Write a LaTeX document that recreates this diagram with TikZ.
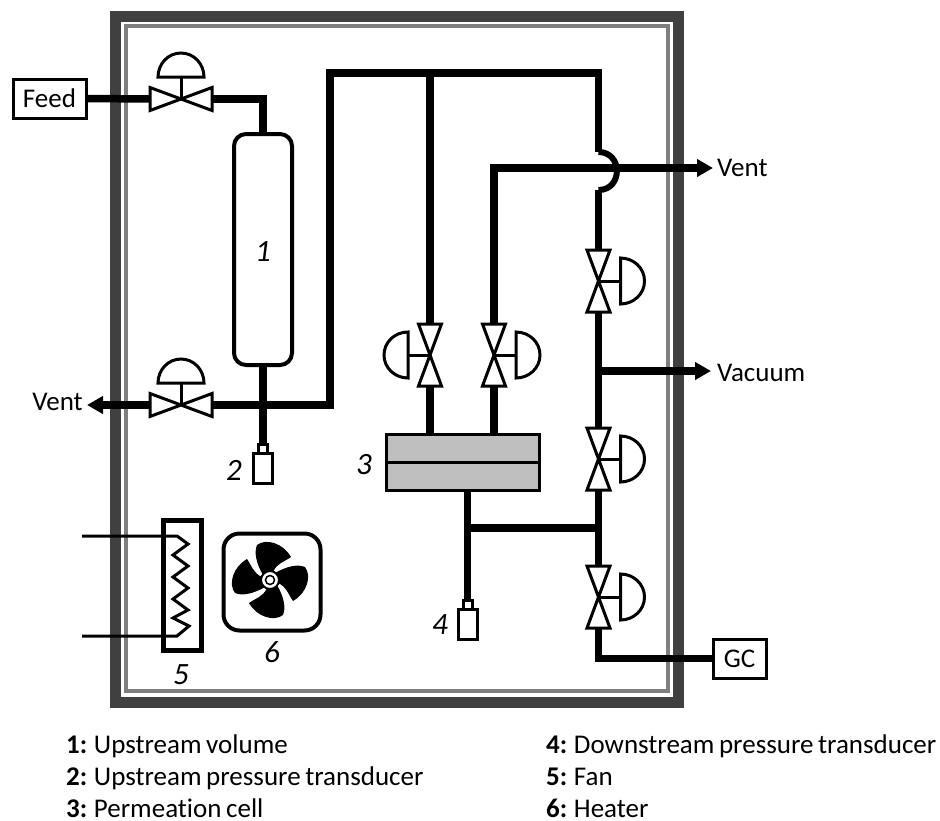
\documentclass[tikz,border=0pt]{standalone}
\usepackage{fontspec}
\setmainfont{Carlito}[Ligatures=NoCommon,WordSpace=0.75]
\usepackage{xcolor}
\usepackage{tikz}
\usetikzlibrary{arrows.meta}

\definecolor{walldark}{HTML}{404040}
\definecolor{wallgray}{HTML}{7F7F7F}
\definecolor{cellgray}{HTML}{BFBFBF}

\tikzset{
  pipe/.style={black, line width=7.5pt},
  pipearrow/.style={pipe, -{Triangle[length=16pt,width=17pt]}},
  wire/.style={black, line width=3pt},
  boxtext/.style={draw=black, line width=3pt, fill=white, font=\fontsize{27}{27}\selectfont, inner sep=0pt},
  numtext/.style={font=\fontsize{31}{31}\selectfont\itshape, inner sep=0pt},
  sidetext/.style={font=\fontsize{27}{27}\selectfont, inner sep=0pt},
  legtext/.style={anchor=base west, font=\fontsize{27}{27}\selectfont, inner sep=0pt},
  valve/.pic={
    \coordinate (-a) at (-31,0);
    \coordinate (-b) at (31,0);
    \draw [wire] (0,0) -- (0,-22);
    \draw [wire, fill=white] (-31,-11.5) -- (-31,11.5) -- (0,0) -- cycle;
    \draw [wire, fill=white] (31,-11.5) -- (31,11.5) -- (0,0) -- cycle;
    \draw [wire, fill=white] (-23,-22) .. controls (-23,-35) and (-13,-46) .. (0,-46)
      .. controls (13,-46) and (23,-35) .. (23,-22) -- cycle;
  },
  gauge/.pic={
    \coordinate (-top) at (0,-9);
    \draw [wire, fill=white] (-4.5,-9) rectangle (4.5,0);
    \draw [wire, fill=white] (-9.5,0) rectangle (9.5,30);
  }
}

\begin{document}
\begin{tikzpicture}[x=1pt,y=-1pt]
\useasboundingbox (0,0) rectangle (940,820);

% oven walls
\draw [walldark, line width=11pt] (115.5,16) rectangle (678.5,702);
\draw [wallgray, line width=3.5pt] (126,26) rectangle (668,691);

% boxes
\node (feed) [boxtext, minimum width=73pt, minimum height=39pt] at (49.5,98.5) {Feed};
\node (gc) [boxtext, minimum width=53pt, minimum height=39pt] at (739.5,658.5) {GC};
\node (vol) [draw=black, line width=4pt, fill=white, rounded corners=12pt, minimum width=58pt, minimum height=231pt, inner sep=0pt] at (263,249.5) {};
\node (cell) [draw=black, line width=3pt, fill=cellgray, minimum width=153pt, minimum height=56pt, inner sep=0pt] at (463,462.5) {};

% valve and junction points
\coordinate (va) at (181,99);
\coordinate (vb) at (181,405);
\coordinate (vc) at (430,355);
\coordinate (vd) at (494,355);
\coordinate (ve) at (598.5,281);
\coordinate (vf) at (598.5,459);
\coordinate (vg) at (598.5,597);
\coordinate (ga) at (263,453.5);
\coordinate (gb) at (467.5,609);
\coordinate (ventl) at (87,405);
\coordinate (ventr) at (713,168);
\coordinate (vacu) at (711,371);
\coordinate (jumpa) at (598.5,152);
\coordinate (jumpb) at (598.5,190);
\coordinate (topl) at (330,73);
\coordinate (topm) at (430,73);
\coordinate (topr) at (598.5,73);
\coordinate (corb) at (330,405);
\coordinate (teea) at (598.5,371);
\coordinate (teeb) at (598.5,528);
\coordinate (teec) at (467.5,528);

\pic (pva) at (va) {valve};
\pic (pvb) at (vb) {valve};
\pic (pvc) [rotate=90] at (vc) {valve};
\pic (pvd) [rotate=-90] at (vd) {valve};
\pic (pve) [rotate=-90] at (ve) {valve};
\pic (pvf) [rotate=-90] at (vf) {valve};
\pic (pvg) [rotate=-90] at (vg) {valve};
\pic (pga) at (ga) {gauge};
\pic (pgb) at (gb) {gauge};

% pipes
\draw [pipe] (feed.east) -- (pva-a);
\draw [pipe] (pva-b) -| (vol.north);
\draw [pipe] (vol.south) -- (pga-top);
\draw [pipearrow] (pvb-a) -- (ventl);
\draw [pipe] (pvb-b) -- (corb) -- (topl) -- (topr) -- (jumpa);
\draw [pipe] (topm) -- (pvc-b);
\draw [pipe] (pvc-a) -- (vc |- cell.north);
\draw [pipearrow] (pvd-a) |- (ventr);
\draw [pipe] (pvd-b) -- (vd |- cell.north);
\draw [black, line width=6pt] (jumpa) .. controls (623,152) and (623,190) .. (jumpb);
\draw [pipe] (jumpb) -- (pve-a);
\draw [pipe] (pve-b) -- (pvf-a);
\draw [pipearrow] (teea) -- (vacu);
\draw [pipe] (pvf-b) -- (pvg-a);
\draw [pipe] (teec) -- (teeb);
\draw [pipe] (teec |- cell.south) -- (pgb-top);
\draw [pipe] (pvg-b) |- (gc.west);

% membrane line
\draw [wire] (cell.west) -- (cell.east);

% heater
\node (heat) [draw=black, line width=5pt, minimum width=38pt, minimum height=130pt, inner sep=0pt] at (182.5,585.5) {};
\coordinate (wirea) at (82,536);
\coordinate (wireb) at (82,636);
\draw [wire] (wirea) -- (177,536) -- (188,544) -- (173,555) -- (188,566) -- (173,577)
  -- (188,588) -- (173,599) -- (188,610) -- (173,618) -- (189,626) -- (177,636) -- (wireb);

% fan
\node (fan) [draw=black, line width=4pt, rounded corners=16pt, minimum width=97pt, minimum height=97pt, inner sep=0pt] at (272,582) {};
\foreach \a in {0,90,180,270}
  \fill [black, rotate around={\a:(270,580)}] (263,575) .. controls (256,563) and (254,552) .. (257,545)
    .. controls (266,538) and (283,543) .. (291,557) .. controls (284,562) and (277,563) .. (273,572) -- cycle;
\node (hub) [circle, draw=black, fill=white, line width=2pt, minimum size=18pt, inner sep=0pt] at (270,580) {};
\node (hubin) [circle, draw=black, fill=white, line width=1.5pt, minimum size=9pt, inner sep=0pt] at (270,580) {};

% numbers
\node (numa) [numtext] at (263,252) {1};
\node (numb) [numtext] at (234,470) {2};
\node (numc) [numtext] at (364,465) {3};
\node (numd) [numtext] at (440,625) {4};
\node (nume) [numtext] at (181,675) {5};
\node (numf) [numtext] at (272,652) {6};

% outside labels
\node (ventlt) [sidetext, anchor=east] at (83,402) {Vent};
\node (ventrt) [sidetext, anchor=west] at (717,168) {Vent};
\node (vact) [sidetext, anchor=west] at (717,373) {Vacuum};

% legend
\foreach \n/\x/\y/\txt in {a/66/753.5/{\textbf{1:} Upstream volume},
                           b/66/785.5/{\textbf{2:} Upstream pressure transducer},
                           c/66/817/{\textbf{3:} Permeation cell},
                           d/546/753.5/{\textbf{4:} Downstream pressure transducer},
                           e/546/785.5/{\textbf{5:} Fan},
                           f/546/817/{\textbf{6:} Heater}}
  \node (leg\n) [legtext] at (\x,\y) {\txt};
\end{tikzpicture}
\end{document}
